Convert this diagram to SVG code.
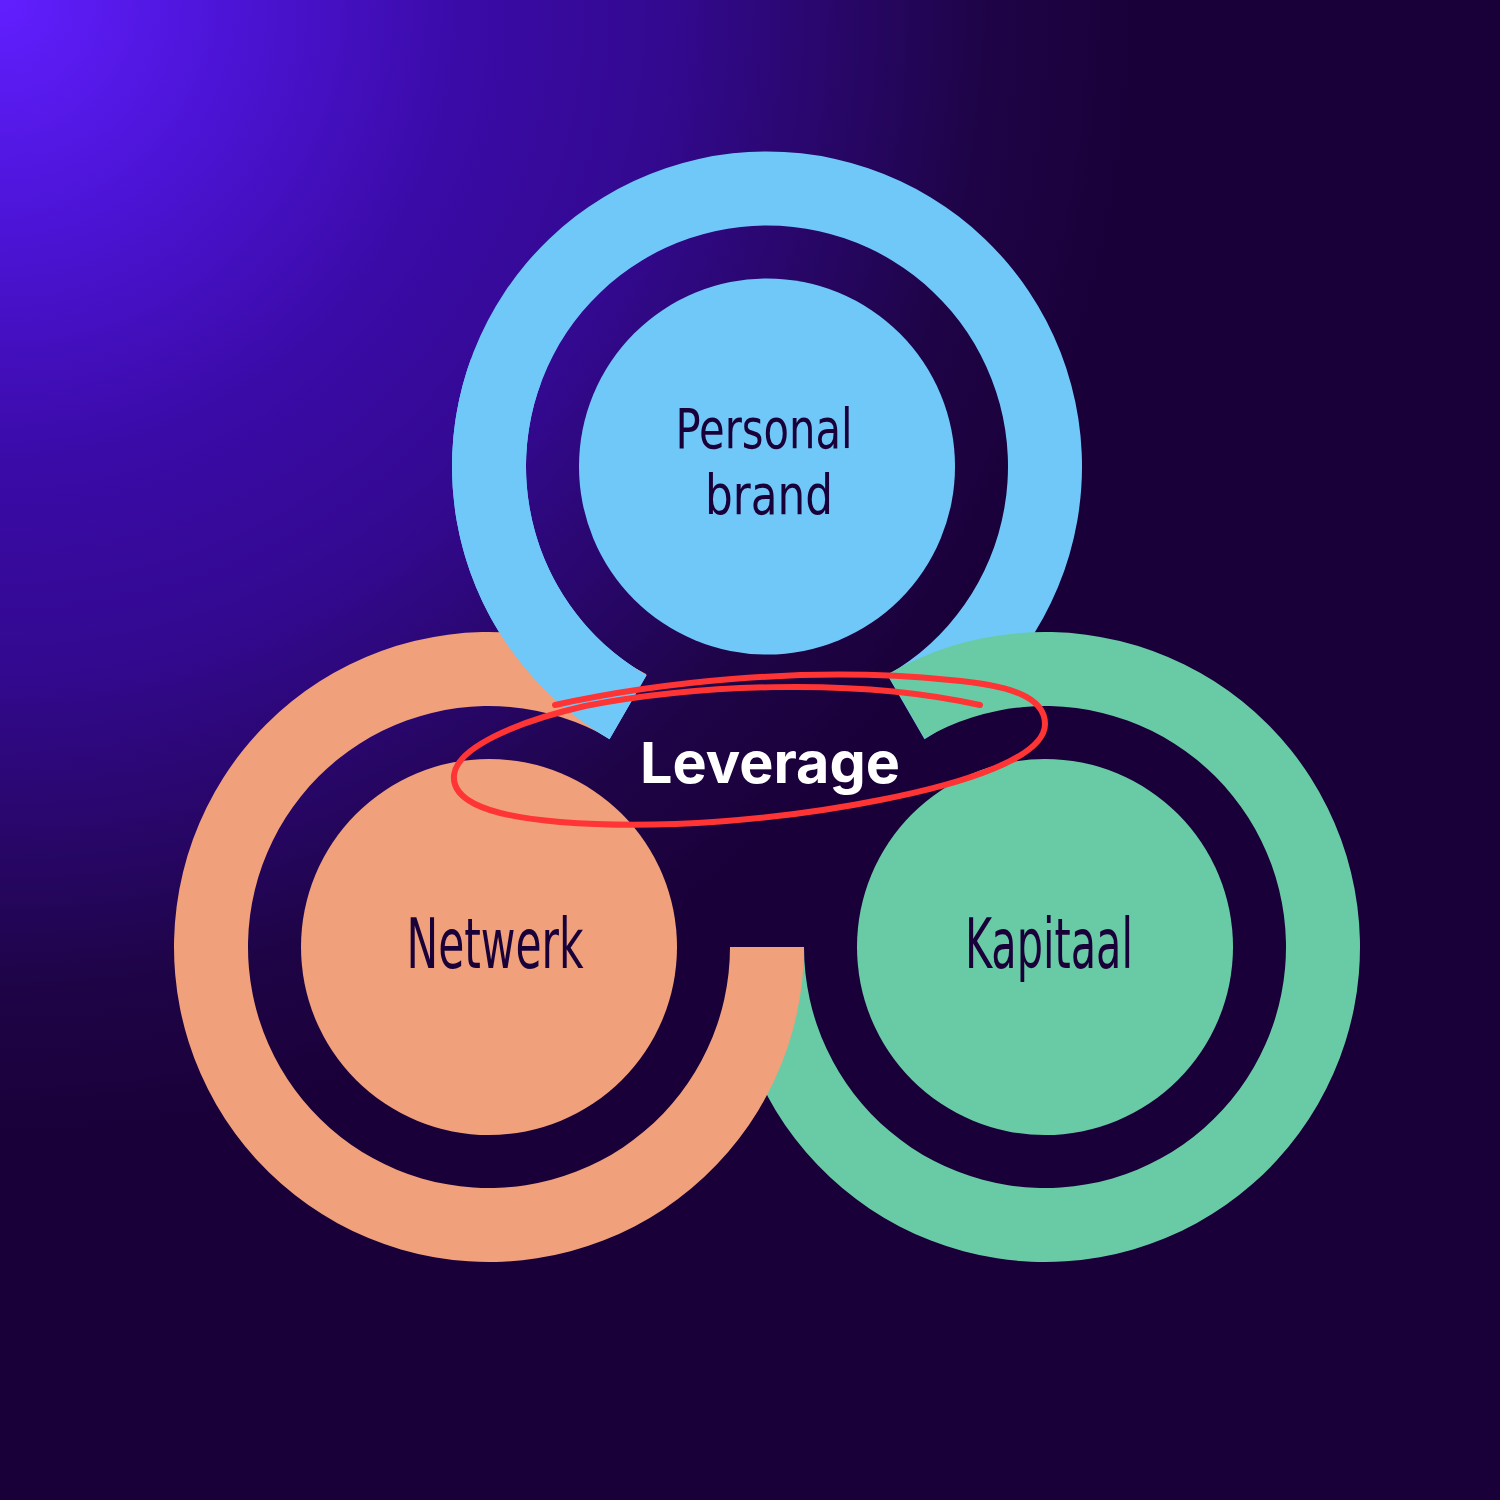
<svg xmlns="http://www.w3.org/2000/svg" width="1500" height="1500" viewBox="0 0 1500 1500">
  <defs>
    <radialGradient id="bg" cx="0" cy="0" r="1150" gradientUnits="userSpaceOnUse">
      <stop offset="0" stop-color="#611FFF"/>
      <stop offset="0.2" stop-color="#4C14D6"/>
      <stop offset="0.4" stop-color="#3B0BA8"/>
      <stop offset="0.58" stop-color="#330990"/>
      <stop offset="0.86" stop-color="#1E0446"/>
      <stop offset="1" stop-color="#1A0038"/>
    </radialGradient>
    <style>
      .blue { fill: #70C8F9; }
      .orange { fill: #F0A07B; }
      .green { fill: #69CBA6; }
      .hand { font-family: "DejaVu Sans Condensed", "DejaVu Sans", sans-serif; font-stretch: condensed; font-size: 70px; fill: #1A0038; text-anchor: middle; }
      .hand2 { font-size: 56px; }
      .lev { font-family: Inter, "Liberation Sans", sans-serif; font-weight: 700; font-size: 57px; fill: #FFFFFF; text-anchor: middle; }
      .loop { fill: none; stroke: #FF3434; stroke-width: 6; stroke-linecap: round; stroke-linejoin: round; }
    </style>
  </defs>

  <rect x="0" y="0" width="1500" height="1500" fill="url(#bg)"/>

  <g id="ring-bands">
    <!-- blue band: 120deg -> 420deg -->
    <path class="blue" d="M 609.5 739.3 A 315 315 0 1 1 924.5 739.3 L 887.5 675.2 A 241 241 0 1 0 646.5 675.2 Z"/>
    <!-- green band: 240deg -> 540deg -->
    <path class="green" d="M 887.5 674.2 A 315 315 0 1 1 730 947 L 804 947 A 241 241 0 1 0 924.5 738.3 Z"/>
    <!-- orange band: 0deg -> 300deg -->
    <path class="orange" d="M 804 947 A 315 315 0 1 1 646.5 674.2 L 609.5 738.3 A 241 241 0 1 0 730 947 Z"/>
    <!-- blue piece over orange at junction -->
    <path class="blue" d="M 609.5 739.3 A 315 315 0 0 1 471 358.8 L 540.5 384.1 A 241 241 0 0 0 646.5 675.2 Z"/>
  </g>

  <g id="node-personal-brand">
    <circle class="blue" cx="767" cy="466.5" r="188"/>
    <text class="hand hand2" x="764" y="448" textLength="177" lengthAdjust="spacingAndGlyphs">Personal</text>
    <text class="hand hand2" x="769" y="514" textLength="128" lengthAdjust="spacingAndGlyphs">brand</text>
  </g>

  <g id="node-netwerk">
    <circle class="orange" cx="489" cy="947" r="188"/>
    <text class="hand" x="495" y="968" textLength="177" lengthAdjust="spacingAndGlyphs">Netwerk</text>
  </g>

  <g id="node-kapitaal">
    <circle class="green" cx="1045" cy="947" r="188"/>
    <text class="hand" x="1049" y="968" textLength="168" lengthAdjust="spacingAndGlyphs">Kapitaal</text>
  </g>

  <g id="node-leverage">
    <text class="lev" x="770" y="783" textLength="260" lengthAdjust="spacingAndGlyphs">Leverage</text>
  </g>

  <g id="connectors">
    <path class="loop" d="M 555 705 C 650 684 800 665 950 680 C 1010 685 1045 697 1045 724 C 1045 758 962 784 880 800 C 780 820 660 830 560 822 C 475 815 452 796 454 775 C 457 748 515 722 585 706 C 690 686 850 676 980 705"/>
  </g>
</svg>
